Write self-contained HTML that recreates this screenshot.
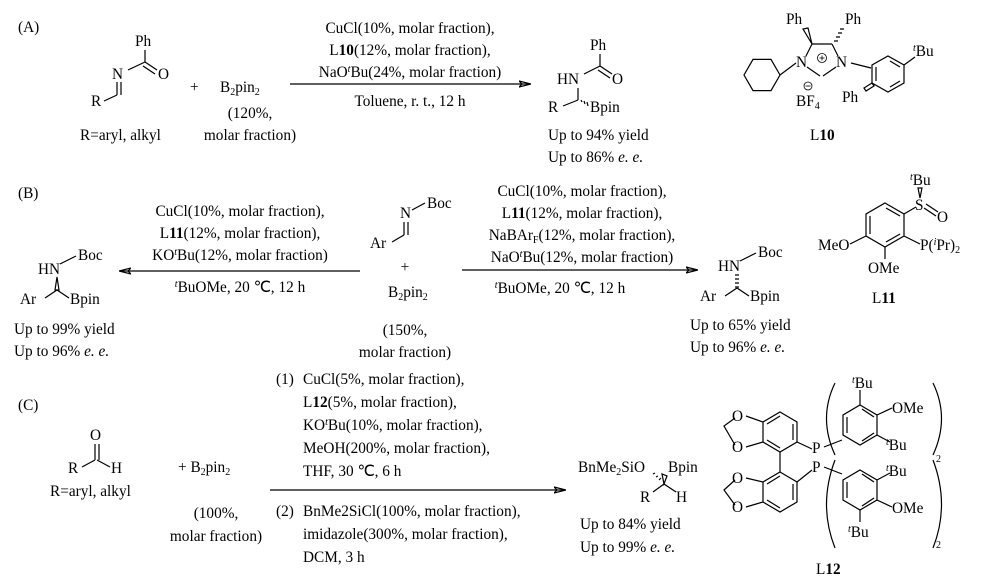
<!DOCTYPE html>
<html><head><meta charset="utf-8"><style>
html,body{margin:0;padding:0;background:#fff;}
svg{display:block;font-family:"Liberation Serif","Times New Roman",Times,serif;}
svg text{font-family:"Liberation Serif","Times New Roman",Times,serif;font-size:15.3px;fill:#000;stroke:none;}
svg text.s, svg tspan.s{font-size:10px;}
line,polyline,polygon,path,circle{stroke:#000;stroke-width:1.2;fill:none;}
</style></head><body>
<svg width="1000" height="583" viewBox="0 0 1000 583" xmlns="http://www.w3.org/2000/svg" font-family="Liberation Serif, serif">
<defs><marker id="ah" markerWidth="12" markerHeight="8" refX="11" refY="4" orient="auto" markerUnits="userSpaceOnUse"><path d="M0,1 L12,4 L0,7 L3,4 Z" fill="#000" stroke="none"/></marker></defs>

<!-- (A) -->
<text x="18" y="32">(A)</text>
<text x="135" y="46">Ph</text>
<line x1="145" y1="50" x2="145" y2="62"/>
<line x1="128" y1="70" x2="145" y2="62"/>
<line x1="145" y1="62" x2="157" y2="70"/><line x1="143" y1="66" x2="155" y2="74"/>
<text x="158" y="79">O</text>
<text x="112" y="79">N</text>
<line x1="117" y1="82" x2="117" y2="95"/><line x1="121" y1="82" x2="121" y2="95"/>
<line x1="117" y1="95" x2="104" y2="101"/>
<text x="91" y="106">R</text>
<text x="80" y="140">R=aryl, alkyl</text>
<text x="190" y="92">+</text>
<text x="220" y="92">B<tspan class="s" dy="3">2</tspan><tspan dy="-3">pin</tspan><tspan class="s" dy="3">2</tspan></text>
<text x="250" y="118" text-anchor="middle">(120%,</text>
<text x="250" y="140" text-anchor="middle">molar fraction)</text>
<line x1="290" y1="84" x2="530" y2="84" marker-end="url(#ah)"/>
<text x="410" y="33" text-anchor="middle">CuCl(10%, molar fraction),</text>
<text x="410" y="55" text-anchor="middle">L<tspan font-weight="bold">10</tspan>(12%, molar fraction),</text>
<text x="410" y="77" text-anchor="middle">NaO<tspan class="s" font-style="italic" dy="-5">t</tspan><tspan dy="5">Bu(24%, molar fraction)</tspan></text>
<text x="410" y="106" text-anchor="middle">Toluene, r. t., 12 h</text>
<!-- product A -->
<text x="590" y="50">Ph</text>
<line x1="600" y1="54" x2="600" y2="66"/>
<line x1="584" y1="74" x2="600" y2="66"/>
<line x1="600" y1="66" x2="612" y2="74"/><line x1="598" y1="70" x2="610" y2="78"/>
<text x="612" y="84">O</text>
<text x="557" y="84">HN</text>
<line x1="578" y1="88" x2="578" y2="100"/>
<line x1="578" y1="100" x2="563" y2="106"/>
<path d="M581,100 l1,2 M584,101 l1,3 M587,102 l1,4"/>
<text x="548" y="112">R</text>
<text x="590" y="112">Bpin</text>
<text x="548" y="140">Up to 94% yield</text>
<text x="548" y="162">Up to 86%  <tspan font-style="italic">e. e.</tspan></text>
<!-- L10 -->
<text x="786" y="24">Ph</text><text x="845" y="24">Ph</text>
<polygon points="812,44 803,29 808,28" fill="#000" stroke="none"/>
<path d="M834,41 h4 M836,37 h4 M838,33 h4 M840,29 h4"/>
<line x1="812" y1="44" x2="832" y2="44"/>
<line x1="806" y1="56" x2="812" y2="44"/><line x1="832" y1="44" x2="838" y2="56"/>
<text x="796" y="67">N</text><text x="836" y="67">N</text>
<line x1="807" y1="67" x2="820" y2="76"/><line x1="836" y1="67" x2="823" y2="76"/>
<circle cx="822" cy="58" r="4.5" style="stroke-width:0.8"/>
<line x1="819.5" y1="58" x2="824.5" y2="58" style="stroke-width:0.8"/><line x1="822" y1="55.5" x2="822" y2="60.5" style="stroke-width:0.8"/>
<polygon points="780,75 771,59.4 753,59.4 744,75 753,90.6 771,90.6"/>
<line x1="780" y1="75" x2="796" y2="63"/>
<line x1="851" y1="63" x2="871" y2="68"/>
<polygon points="888,56 904,65 904,83 888,92 872,83 872,65"/>
<line x1="876" y1="67" x2="876" y2="81"/><line x1="890" y1="87" x2="900" y2="81"/><line x1="890" y1="61" x2="900" y2="67"/>
<line x1="904" y1="65" x2="915" y2="57"/>
<text x="913" y="56"><tspan class="s" font-style="italic" dy="-5">t</tspan><tspan dy="5">Bu</tspan></text>
<polygon points="872,83 864,88 866,91 874,86" fill="#000" stroke="none"/>
<text x="842" y="102">Ph</text>
<circle cx="808" cy="86" r="4" style="stroke-width:0.8"/>
<line x1="805.5" y1="86" x2="810.5" y2="86" style="stroke-width:0.8"/>
<text x="796" y="106">BF<tspan class="s" dy="3">4</tspan></text>
<text x="810" y="140">L<tspan font-weight="bold">10</tspan></text>

<!-- (B) -->
<text x="18" y="198">(B)</text>
<line x1="360" y1="271" x2="120" y2="271" marker-end="url(#ah)"/>
<text x="240" y="216" text-anchor="middle">CuCl(10%, molar fraction),</text>
<text x="240" y="238" text-anchor="middle">L<tspan font-weight="bold">11</tspan>(12%, molar fraction),</text>
<text x="240" y="260" text-anchor="middle">KO<tspan class="s" font-style="italic" dy="-5">t</tspan><tspan dy="5">Bu(12%, molar fraction)</tspan></text>
<text x="240" y="292" text-anchor="middle"><tspan class="s" font-style="italic" dy="-5">t</tspan><tspan dy="5">BuOMe, 20 ℃, 12 h</tspan></text>
<!-- left product -->
<text x="38" y="274">HN</text>
<line x1="60" y1="264" x2="76" y2="256"/>
<text x="78" y="260">Boc</text>
<polygon points="57,277 55,290 59,290" fill="#000" stroke="none"/>
<line x1="57" y1="290" x2="45" y2="298"/><line x1="57" y1="290" x2="69" y2="298"/>
<text x="20" y="304">Ar</text><text x="70" y="304">Bpin</text>
<text x="14" y="334">Up to 99% yield</text>
<text x="14" y="356">Up to 96%  <tspan font-style="italic">e. e.</tspan></text>
<!-- center -->
<text x="400" y="218">N</text>
<line x1="412" y1="210" x2="425" y2="203"/>
<text x="427" y="208">Boc</text>
<line x1="404" y1="222" x2="404" y2="235"/><line x1="408" y1="222" x2="408" y2="235"/>
<line x1="404" y1="235" x2="392" y2="242"/>
<text x="370" y="248">Ar</text>
<text x="405" y="272" text-anchor="middle">+</text>
<text x="388" y="297">B<tspan class="s" dy="3">2</tspan><tspan dy="-3">pin</tspan><tspan class="s" dy="3">2</tspan></text>
<text x="405" y="335" text-anchor="middle">(150%,</text>
<text x="405" y="357" text-anchor="middle">molar fraction)</text>
<line x1="462" y1="270" x2="697" y2="270" marker-end="url(#ah)"/>
<text x="582" y="196" text-anchor="middle">CuCl(10%, molar fraction),</text>
<text x="582" y="218" text-anchor="middle">L<tspan font-weight="bold">11</tspan>(12%, molar fraction),</text>
<text x="582" y="240" text-anchor="middle">NaBAr<tspan class="s" dy="3">F</tspan><tspan dy="-3">(12%, molar fraction),</tspan></text>
<text x="582" y="262" text-anchor="middle">NaO<tspan class="s" font-style="italic" dy="-5">t</tspan><tspan dy="5">Bu(12%, molar fraction)</tspan></text>
<text x="560" y="293" text-anchor="middle"><tspan class="s" font-style="italic" dy="-5">t</tspan><tspan dy="5">BuOMe, 20 ℃, 12 h</tspan></text>
<!-- right product -->
<text x="718" y="271">HN</text>
<line x1="740" y1="261" x2="756" y2="253"/>
<text x="758" y="257">Boc</text>
<path d="M735,275 h4 M735,279 h4 M735,283 h4 M735,287 h4"/>
<line x1="737" y1="288" x2="725" y2="296"/><line x1="737" y1="288" x2="749" y2="296"/>
<text x="700" y="301">Ar</text><text x="750" y="301">Bpin</text>
<text x="690" y="330">Up to 65% yield</text>
<text x="690" y="352">Up to 96%  <tspan font-style="italic">e. e.</tspan></text>
<!-- L11 -->
<polygon points="885,203 904,214 904,236 885,247 866,236 866,214"/>
<line x1="870" y1="216" x2="870" y2="234"/><line x1="886" y1="208" x2="900" y2="216"/><line x1="886" y1="242" x2="900" y2="234"/>
<line x1="904" y1="214" x2="916" y2="207"/>
<text x="915" y="210">S</text>
<polygon points="920,198 918,188 922,188" fill="#000" stroke="none"/>
<text x="910" y="185"><tspan class="s" font-style="italic" dy="-5">t</tspan><tspan dy="5">Bu</tspan></text>
<line x1="926" y1="204" x2="938" y2="212"/><line x1="924" y1="208" x2="936" y2="216"/>
<text x="937" y="222">O</text>
<line x1="904" y1="236" x2="920" y2="244"/>
<text x="920" y="250">P(<tspan class="s" font-style="italic" dy="-5">i</tspan><tspan dy="5">Pr)</tspan><tspan class="s" dy="3">2</tspan></text>
<line x1="866" y1="236" x2="850" y2="244"/>
<text x="818" y="250">MeO</text>
<line x1="885" y1="247" x2="885" y2="259"/>
<text x="868" y="273">OMe</text>
<text x="872" y="303">L<tspan font-weight="bold">11</tspan></text>

<!-- (C) -->
<text x="18" y="410">(C)</text>
<text x="90" y="440">O</text>
<line x1="95" y1="444" x2="95" y2="460"/><line x1="99" y1="444" x2="99" y2="460"/>
<line x1="95" y1="460" x2="82" y2="467"/><line x1="97" y1="460" x2="110" y2="467"/>
<text x="68" y="473">R</text><text x="111" y="473">H</text>
<text x="50" y="496">R=aryl, alkyl</text>
<text x="178" y="472">+  B<tspan class="s" dy="3">2</tspan><tspan dy="-3">pin</tspan><tspan class="s" dy="3">2</tspan></text>
<text x="216" y="518" text-anchor="middle">(100%,</text>
<text x="216" y="541" text-anchor="middle">molar fraction)</text>
<line x1="270" y1="490" x2="565" y2="490" marker-end="url(#ah)"/>
<text x="276" y="384">(1)</text>
<text x="303" y="384">CuCl(5%, molar fraction),</text>
<text x="303" y="407">L<tspan font-weight="bold">12</tspan>(5%, molar fraction),</text>
<text x="303" y="430">KO<tspan class="s" font-style="italic" dy="-5">t</tspan><tspan dy="5">Bu(10%, molar fraction),</tspan></text>
<text x="303" y="453">MeOH(200%, molar fraction),</text>
<text x="303" y="476">THF, 30 ℃, 6 h</text>
<text x="276" y="516">(2)</text>
<text x="303" y="516">BnMe2SiCl(100%, molar fraction),</text>
<text x="303" y="539">imidazole(300%, molar fraction),</text>
<text x="303" y="562">DCM, 3 h</text>
<!-- product C -->
<text x="578" y="472">BnMe<tspan class="s" dy="3">2</tspan><tspan dy="-3">SiO</tspan></text>
<text x="668" y="472">Bpin</text>
<path d="M653,474 l2,-1 M656,477 l2,-1 M659,480 l2,-2"/>
<polygon points="664,484 662,474 667,476" fill="#000" stroke="none"/>
<line x1="664" y1="484" x2="653" y2="492"/><line x1="664" y1="484" x2="676" y2="492"/>
<text x="640" y="502">R</text><text x="676" y="502">H</text>
<text x="580" y="529">Up to 84% yield</text>
<text x="580" y="552">Up to 99%  <tspan font-style="italic">e. e.</tspan></text>
<!-- L12 -->
<polygon points="780,412 797,422 797,442 780,452 763,442 763,422"/>
<line x1="793" y1="424" x2="793" y2="440"/><line x1="767" y1="440" x2="780" y2="448"/><line x1="767" y1="424" x2="780" y2="416"/>
<polygon points="780,472 797,482 797,502 780,512 763,502 763,482"/>
<line x1="793" y1="484" x2="793" y2="500"/><line x1="767" y1="484" x2="780" y2="476"/><line x1="767" y1="500" x2="780" y2="508"/>
<line x1="780" y1="452" x2="780" y2="472"/>
<line x1="763" y1="422" x2="746" y2="416"/><line x1="763" y1="442" x2="746" y2="447"/>
<text x="732" y="421">O</text><text x="732" y="452">O</text>
<path d="M735,418 L724,426 L735,445"/>
<line x1="763" y1="482" x2="746" y2="478"/><line x1="763" y1="502" x2="746" y2="507"/>
<text x="732" y="483">O</text><text x="732" y="512">O</text>
<path d="M735,480 L724,490 L735,505"/>
<line x1="797" y1="442" x2="812" y2="449"/>
<text x="812" y="453">P</text>
<line x1="797" y1="482" x2="812" y2="470"/>
<text x="812" y="472">P</text>
<line x1="824" y1="447" x2="842" y2="440"/>
<line x1="824" y1="467" x2="842" y2="474"/>
<path d="M835,383 Q818,418 835,455"/><path d="M933,383 Q950,418 933,455"/>
<text x="936" y="462" class="s">2</text>
<path d="M835,460 Q818,505 835,548"/><path d="M933,460 Q950,505 933,548"/>
<text x="936" y="548" class="s">2</text>
<polygon points="860,405 877,415 877,435 860,445 843,435 843,415"/>
<line x1="847" y1="417" x2="847" y2="433"/><line x1="862" y1="441" x2="874" y2="433"/><line x1="862" y1="409" x2="874" y2="417"/>
<line x1="860" y1="405" x2="860" y2="390"/>
<text x="852" y="388"><tspan class="s" font-style="italic" dy="-5">t</tspan><tspan dy="5">Bu</tspan></text>
<line x1="877" y1="415" x2="892" y2="408"/><text x="892" y="413">OMe</text>
<line x1="877" y1="435" x2="890" y2="442"/><text x="886" y="450"><tspan class="s" font-style="italic" dy="-5">t</tspan><tspan dy="5">Bu</tspan></text>
<polygon points="860,470 877,480 877,500 860,510 843,500 843,480"/>
<line x1="847" y1="482" x2="847" y2="498"/><line x1="862" y1="506" x2="874" y2="498"/><line x1="862" y1="474" x2="874" y2="482"/>
<line x1="877" y1="480" x2="890" y2="473"/><text x="886" y="476"><tspan class="s" font-style="italic" dy="-5">t</tspan><tspan dy="5">Bu</tspan></text>
<line x1="877" y1="500" x2="892" y2="507"/><text x="892" y="513">OMe</text>
<line x1="860" y1="510" x2="860" y2="522"/>
<text x="848" y="537"><tspan class="s" font-style="italic" dy="-5">t</tspan><tspan dy="5">Bu</tspan></text>
<text x="816" y="574">L<tspan font-weight="bold">12</tspan></text>
</svg>
</body></html>
